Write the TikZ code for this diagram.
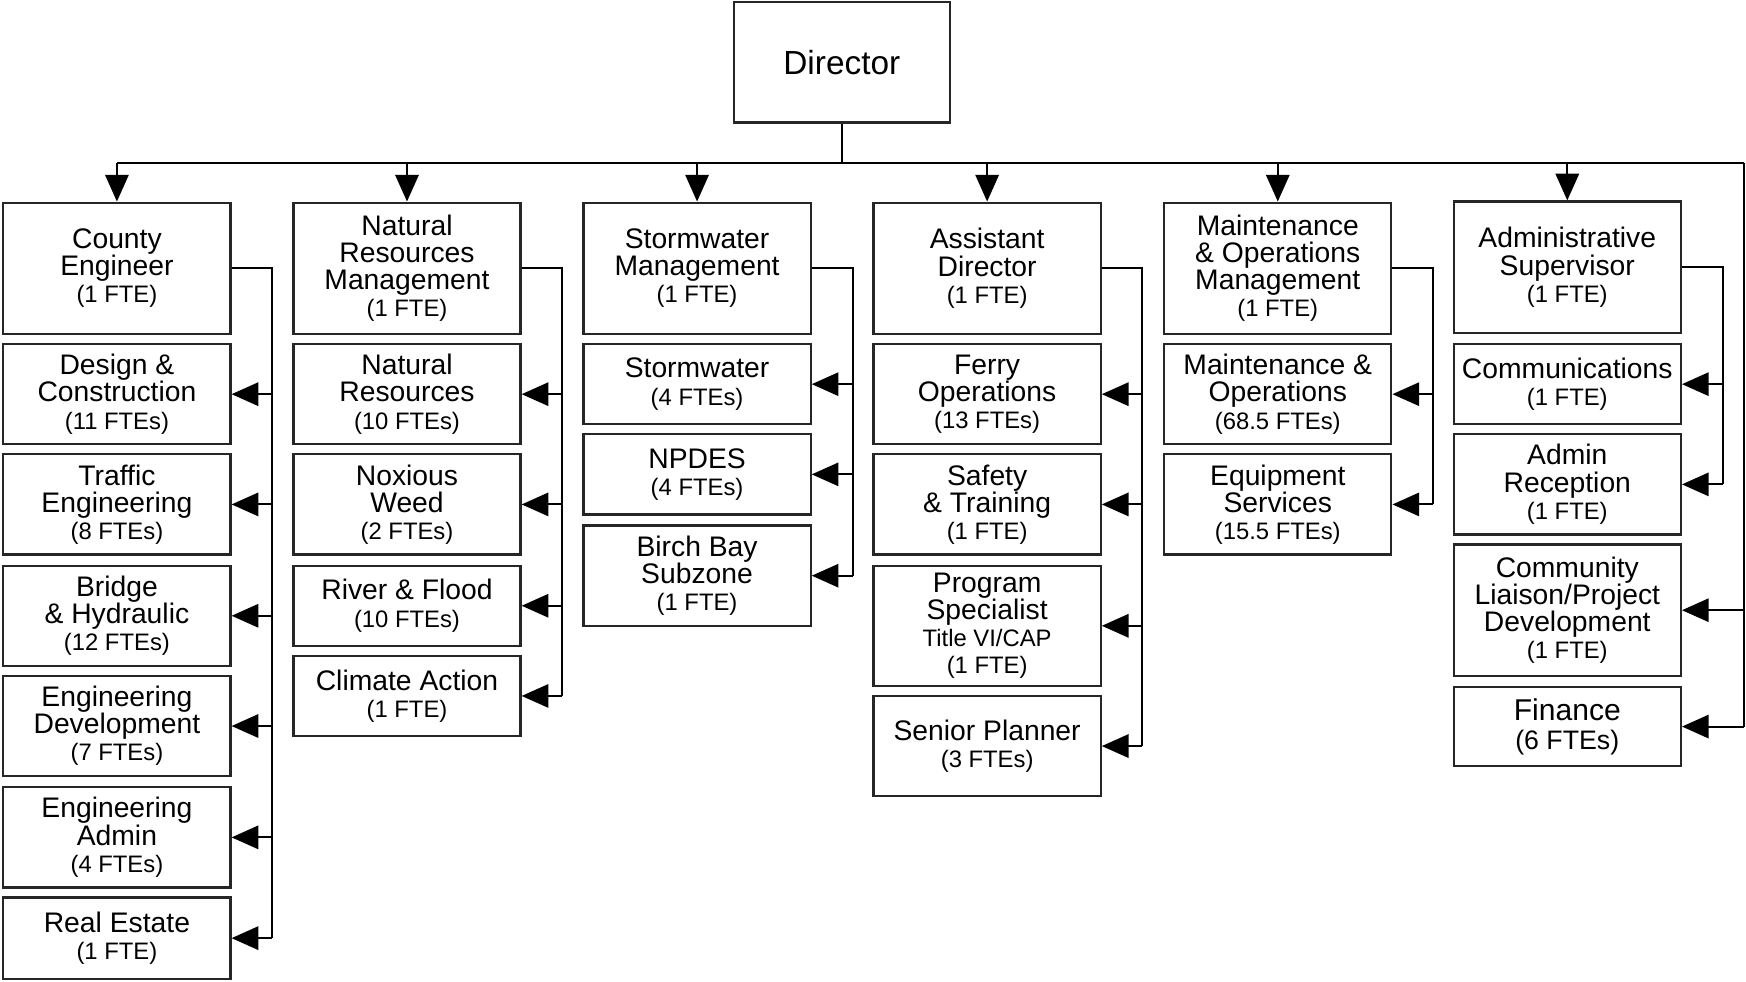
\documentclass[tikz,border=0pt]{standalone}
\usepackage{fontspec}
\setmainfont{Liberation Sans}
\usetikzlibrary{arrows.meta}
\newcommand\subt[1]{{\fontsize{10.7}{12.2}\selectfont #1}}
\begin{document}
\begin{tikzpicture}[x=0.5pt,y=-0.5pt,
  box/.style={draw=black!85, line width=1pt, rectangle, inner sep=0pt, minimum width=102pt, align=center, fill=white, font=\fontsize{12.7}{12.2}\selectfont},
  wire/.style={line width=0.9pt, draw=black},
  arr/.style={wire, -{Triangle[length=12pt,width=10.5pt]}}]
\useasboundingbox (0,0) rectangle (1568,881);
% Director
\node[box, minimum width=97pt, minimum height=54pt, font=\fontsize{15}{16}\selectfont] (dir) at (756,56) {Director};
% top row
\node[box, minimum height=59pt] (c1) at (105,241) {County\\Engineer\\\subt{(1 FTE)}};
\node[box, minimum height=59pt] (c2) at (365.5,241) {Natural\\Resources\\Management\\\subt{(1 FTE)}};
\node[box, minimum height=59pt] (c3) at (626,241) {Stormwater\\Management\\\subt{(1 FTE)}};
\node[box, minimum height=59pt] (c4) at (886.5,241) {Assistant\\Director\\\subt{(1 FTE)}};
\node[box, minimum height=59pt] (c5) at (1147.5,241) {Maintenance\\\& Operations\\Management\\\subt{(1 FTE)}};
\node[box, minimum height=59pt] (c6) at (1407.5,240) {Administrative\\Supervisor\\\subt{(1 FTE)}};
% column 1
\node[box, minimum height=45pt] (c1a) at (105,354) {Design \&\\Construction\\\subt{(11 FTEs)}};
\node[box, minimum height=45pt] (c1b) at (105,453) {Traffic\\Engineering\\\subt{(8 FTEs)}};
\node[box, minimum height=45pt] (c1c) at (105,553) {Bridge\\\& Hydraulic\\\subt{(12 FTEs)}};
\node[box, minimum height=45pt] (c1d) at (105,652) {Engineering\\Development\\\subt{(7 FTEs)}};
\node[box, minimum height=45pt] (c1e) at (105,752) {Engineering\\Admin\\\subt{(4 FTEs)}};
\node[box, minimum height=36.5pt] (c1f) at (105,842.5) {Real Estate\\\subt{(1 FTE)}};
% column 2
\node[box, minimum height=45pt] (c2a) at (365.5,354) {Natural\\Resources\\\subt{(10 FTEs)}};
\node[box, minimum height=45pt] (c2b) at (365.5,453) {Noxious\\Weed\\\subt{(2 FTEs)}};
\node[box, minimum height=36pt] (c2c) at (365.5,544) {River \& Flood\\\subt{(10 FTEs)}};
\node[box, minimum height=36pt] (c2d) at (365.5,625) {Climate Action\\\subt{(1 FTE)}};
% column 3
\node[box, minimum height=36pt] (c3a) at (626,345) {Stormwater\\\subt{(4 FTEs)}};
\node[box, minimum height=36pt] (c3b) at (626,426) {NPDES\\\subt{(4 FTEs)}};
\node[box, minimum height=45pt] (c3c) at (626,517) {Birch Bay\\Subzone\\\subt{(1 FTE)}};
% column 4
\node[box, minimum height=45pt] (c4a) at (886.5,354) {Ferry\\Operations\\\subt{(13 FTEs)}};
\node[box, minimum height=45pt] (c4b) at (886.5,453) {Safety\\\& Training\\\subt{(1 FTE)}};
\node[box, minimum height=54pt] (c4c) at (886.5,562) {Program\\Specialist\\\subt{Title VI/CAP}\\\subt{(1 FTE)}};
\node[box, minimum height=45pt] (c4d) at (886.5,670) {Senior Planner\\\subt{(3 FTEs)}};
% column 5
\node[box, minimum height=45pt] (c5a) at (1147.5,354) {Maintenance \&\\Operations\\\subt{(68.5 FTEs)}};
\node[box, minimum height=45pt] (c5b) at (1147.5,453) {Equipment\\Services\\\subt{(15.5 FTEs)}};
% column 6
\node[box, minimum height=36pt] (c6a) at (1407.5,345) {Communications\\\subt{(1 FTE)}};
\node[box, minimum height=45pt] (c6b) at (1407.5,435) {Admin\\Reception\\\subt{(1 FTE)}};
\node[box, minimum height=59pt] (c6c) at (1407.5,548) {Community\\Liaison/Project\\Development\\\subt{(1 FTE)}};
\node[box, minimum height=35.5pt, font=\fontsize{13.5}{13}\selectfont] (c6d) at (1407.5,652.5) {Finance\\{\fontsize{12}{13}\selectfont (6 FTEs)}};
% bus
\coordinate (busL) at (105,146);
\coordinate (busR) at (1566,146);
\coordinate (busM) at (756,146);
\draw[wire] (dir.south) -- (busM);
\draw[wire] (busL) -- (busR);
\foreach \n in {c1,c2,c3,c4,c5,c6}{
  \draw[arr] (\n.north |- busL) -- (\n.north);
}
% vertical trunks
\coordinate (v1) at (244,0);
\coordinate (v2) at (505,0);
\coordinate (v3) at (766,0);
\coordinate (v4) at (1026,0);
\coordinate (v5) at (1287,0);
\coordinate (v6) at (1547,0);
\draw[wire] (c1.east) -| (v1 |- c1f.east);
\foreach \n in {c1a,c1b,c1c,c1d,c1e,c1f}{\draw[arr] (v1 |- \n.east) -- (\n.east);}
\draw[wire] (c2.east) -| (v2 |- c2d.east);
\foreach \n in {c2a,c2b,c2c,c2d}{\draw[arr] (v2 |- \n.east) -- (\n.east);}
\draw[wire] (c3.east) -| (v3 |- c3c.east);
\foreach \n in {c3a,c3b,c3c}{\draw[arr] (v3 |- \n.east) -- (\n.east);}
\draw[wire] (c4.east) -| (v4 |- c4d.east);
\foreach \n in {c4a,c4b,c4c,c4d}{\draw[arr] (v4 |- \n.east) -- (\n.east);}
\draw[wire] (c5.east) -| (v5 |- c5b.east);
\foreach \n in {c5a,c5b}{\draw[arr] (v5 |- \n.east) -- (\n.east);}
\draw[wire] (c6.east) -| (v6 |- c6b.east);
\foreach \n in {c6a,c6b}{\draw[arr] (v6 |- \n.east) -- (\n.east);}
\draw[wire] (busR) -- (busR |- c6d.east);
\foreach \n in {c6c,c6d}{\draw[arr] (busR |- \n.east) -- (\n.east);}
\end{tikzpicture}
\end{document}
